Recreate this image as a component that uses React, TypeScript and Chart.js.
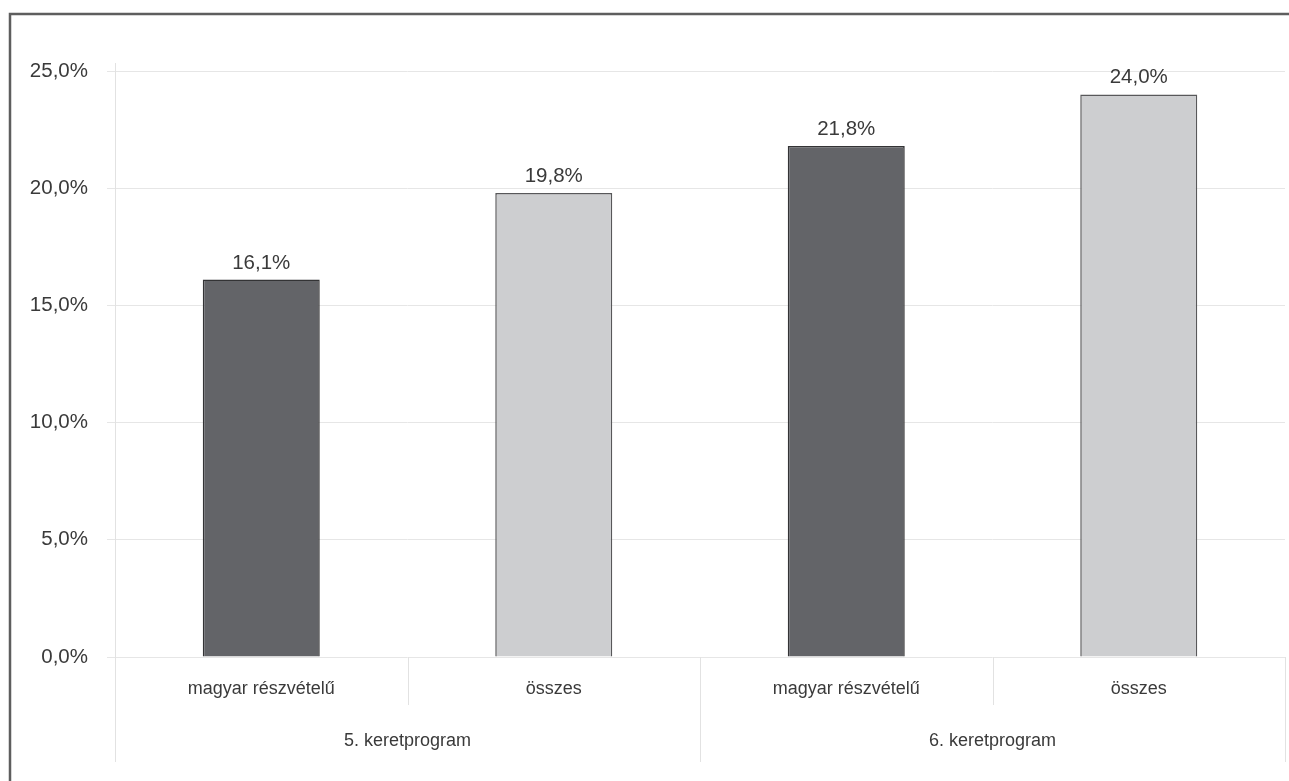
import React, { useEffect, useRef } from "react";
import { Chart, registerables } from "chart.js";

Chart.register(...registerables);

const categories = ["magyar részvételű", "összes", "magyar részvételű", "összes"];
const groups = ["5. keretprogram", "6. keretprogram"];
const values = [16.1, 19.8, 21.8, 24.0];
const yTicks = [0, 5, 10, 15, 20, 25];

const barColors = ["#636468", "#cdced0", "#636468", "#cdced0"];
const barBorders = ["#333335", "#58585a", "#333335", "#58585a"];

const FONT = "'Liberation Sans', Arial, sans-serif";
const TEXT = "#3a3a3a";
const fmt = (v: number) => v.toFixed(1).replace(".", ",") + "%";

const decorPlugin = {
  id: "decor",
  beforeDraw(chart: any) {
    const ctx = chart.ctx;
    ctx.save();
    ctx.fillStyle = "#ffffff";
    ctx.fillRect(0, 0, chart.width, chart.height);
    ctx.strokeStyle = "#5e5e5e";
    ctx.lineWidth = 2.5;
    ctx.beginPath();
    ctx.moveTo(10, chart.height);
    ctx.lineTo(10, 14);
    ctx.lineTo(chart.width, 14);
    ctx.stroke();
    ctx.restore();
  },
  afterDraw(chart: any) {
    const ctx = chart.ctx;
    const xs = chart.scales.x;
    const area = chart.chartArea;
    const n = categories.length;
    const half = (xs.getPixelForValue(1) - xs.getPixelForValue(0)) / 2;
    ctx.save();
    ctx.strokeStyle = "#e2e2e2";
    ctx.lineWidth = 1;
    ctx.beginPath();
    ctx.moveTo(area.left + 0.5, area.top - 8);
    ctx.lineTo(area.left + 0.5, area.bottom);
    ctx.stroke();
    for (let i = 0; i <= n; i++) {
      const x = i === 0 ? area.left : i === n ? area.right : xs.getPixelForValue(i) - half;
      const isGroup = i % 2 === 0;
      ctx.beginPath();
      ctx.moveTo(Math.round(x) + 0.5, area.bottom);
      ctx.lineTo(Math.round(x) + 0.5, area.bottom + (isGroup ? 105 : 48));
      ctx.stroke();
    }
    ctx.fillStyle = TEXT;
    ctx.font = `18px ${FONT}`;
    ctx.textAlign = "center";
    ctx.textBaseline = "middle";
    groups.forEach((g, gi) => {
      const cx = (xs.getPixelForValue(gi * 2) + xs.getPixelForValue(gi * 2 + 1)) / 2;
      ctx.fillText(g, cx, area.bottom + 84);
    });
    const meta = chart.getDatasetMeta(0);
    ctx.font = `20.5px ${FONT}`;
    ctx.textBaseline = "alphabetic";
    meta.data.forEach((bar: any, i: number) => {
      ctx.fillText(fmt(values[i]), bar.x, bar.y - 11);
    });
    ctx.restore();
  },
};

export default function App() {
  const ref = useRef<HTMLCanvasElement | null>(null);
  useEffect(() => {
    if (!ref.current) return;
    const chart = new Chart(ref.current, {
      type: "bar",
      data: {
        labels: categories,
        datasets: [
          {
            data: values,
            backgroundColor: barColors,
            borderColor: barBorders,
            borderWidth: 1.5,
            barPercentage: 0.4,
            categoryPercentage: 1,
          },
        ],
      },
      options: {
        animation: false,
        responsive: false,
        devicePixelRatio: 1,
        layout: { padding: { left: 20, right: 4, top: 71, bottom: 0 } },
        plugins: { legend: { display: false }, tooltip: { enabled: false } },
        scales: {
          x: {
            grid: { display: false, drawTicks: false },
            border: { display: false },
            ticks: { color: TEXT, font: { family: FONT, size: 18 }, padding: 21 },
            afterFit: (s: any) => {
              s.height = 124;
            },
          },
          y: {
            min: 0,
            max: 25,
            afterBuildTicks: (s: any) => {
              s.ticks = yTicks.map((v) => ({ value: v }));
            },
            grid: { color: "#e6e6e6", tickLength: 8, lineWidth: 1 },
            border: { display: false },
            ticks: {
              color: TEXT,
              font: { family: FONT, size: 20.5 },
              padding: 19,
              callback: (v: any) => fmt(Number(v)),
            },
            afterFit: (s: any) => {
              s.width = 95;
            },
          },
        },
      },
      plugins: [decorPlugin],
    });
    return () => chart.destroy();
  }, []);
  return (
    <div style={{ position: "fixed", left: 0, top: 0, width: 1289, height: 781, background: "#fff" }}>
      <canvas ref={ref} width={1289} height={781} style={{ display: "block" }} />
    </div>
  );
}
